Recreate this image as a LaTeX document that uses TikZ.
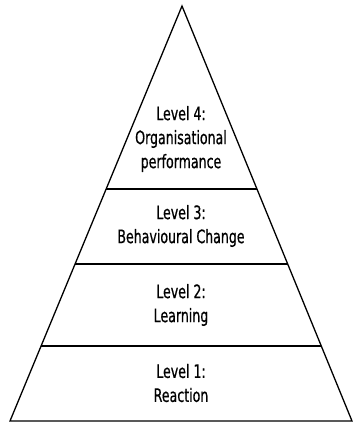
\documentclass[tikz,border=0pt]{standalone}
\usepackage{fontspec}
\newfontfamily\lvlfont[FakeStretch=0.68,FakeBold=0.6]{DejaVu Sans}
\usetikzlibrary{calc}
\begin{document}
\begin{tikzpicture}[x=1pt,y=-1pt,
  edge/.style={line width=1.3pt,draw=black},
  lvltext/.style={align=center,inner sep=0pt,font=\lvlfont\fontsize{18.5}{24}\selectfont,text=black}]
\useasboundingbox (0,0) rectangle (353,423);
\coordinate (A) at (182,6);
\coordinate (L) at (10,421);
\coordinate (R) at (352,421);
\draw[edge,line join=miter] (L) -- (A) -- (R) -- cycle;
\coordinate (l4) at ($(L)!0.559!(A)$);
\coordinate (r4) at ($(R)!0.559!(A)$);
\coordinate (l3) at ($(L)!0.378!(A)$);
\coordinate (r3) at ($(R)!0.378!(A)$);
\coordinate (l2) at ($(L)!0.181!(A)$);
\coordinate (r2) at ($(R)!0.181!(A)$);
\draw[edge] (l4) -- (r4);
\draw[edge] (l3) -- (r3);
\draw[edge] (l2) -- (r2);
\node[lvltext] (t4) at (181,139) {Level 4:\\Organisational\\performance};
\node[lvltext] (t3) at (181,226) {Level 3:\\Behavioural Change};
\node[lvltext] (t2) at (181,305) {Level 2:\\Learning};
\node[lvltext] (t1) at (181,383) {Level 1:\\Reaction};
\end{tikzpicture}
\end{document}
